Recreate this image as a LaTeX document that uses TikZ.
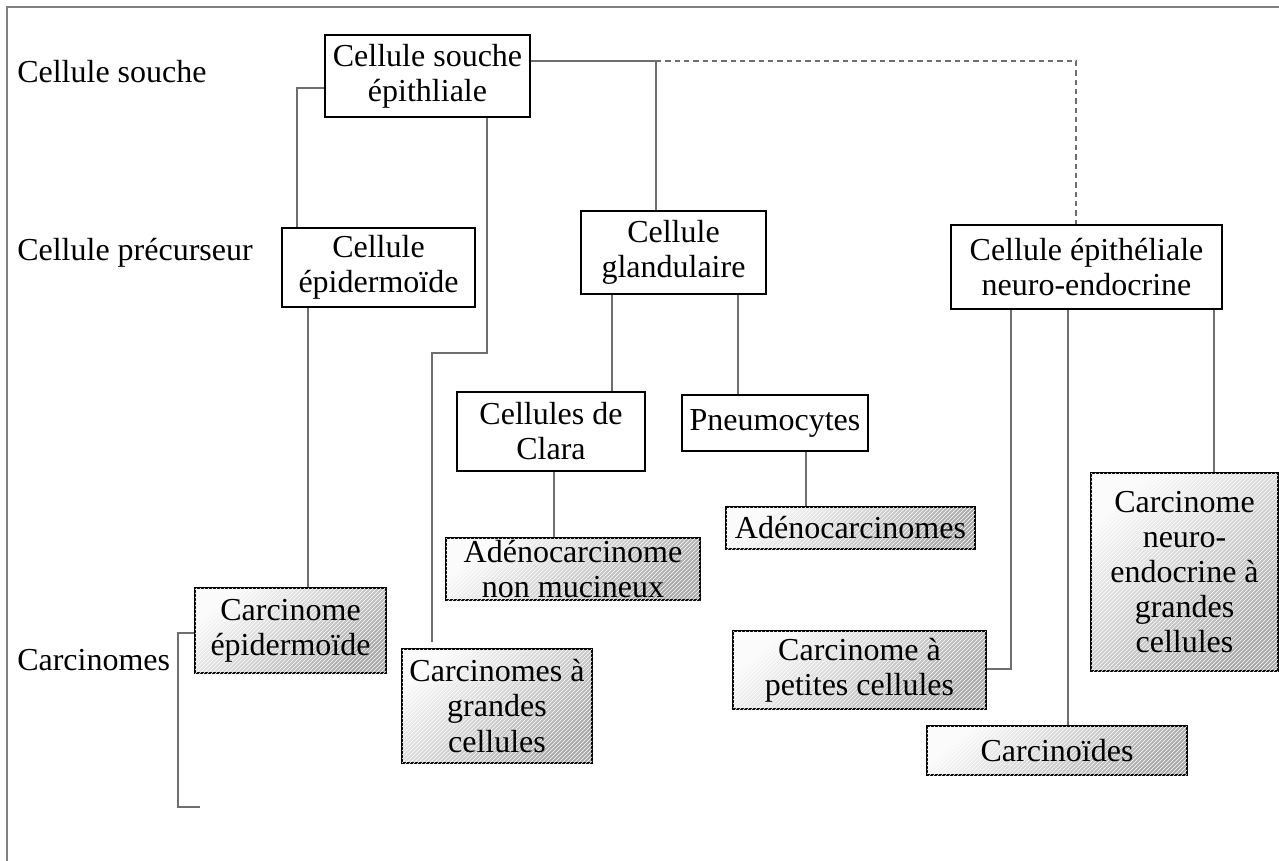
\documentclass[tikz,border=0pt]{standalone}
\usepackage{fontspec}
\setmainfont{Liberation Serif}
\usetikzlibrary{patterns}
\definecolor{linec}{HTML}{6E6E6E}
\newcommand\diafont{\fontsize{24}{26.3}\selectfont}
\newcommand\bx[7]{\node[#6, minimum width={(#4-#2)*0.75pt}, minimum height={(#5-#3)*0.75pt}] (#1) at ({(#2+#4)/2},{(#3+#5)/2}) {#7};}
\begin{document}
\begin{tikzpicture}[x=0.75pt,y=-0.75pt,
  plainbox/.style={draw=black, line width=0.9pt, fill=white, align=center, inner sep=0pt, font=\diafont},
  shadedbox/.style={draw=black, line width=0.9pt, align=center, inner sep=0pt, font=\diafont,
     top color=gray!4, bottom color=gray!68, shading angle=40,
     postaction={pattern=north east lines, pattern color=white, fill opacity=0.35}},
  conn/.style={draw=linec, line width=1pt},
  dconn/.style={draw=linec, line width=0.8pt, dash pattern=on 4pt off 3pt},
  lbl/.style={anchor=west, inner sep=0pt, font=\diafont}]
\useasboundingbox (0,0) rectangle (1279,861);
\fill[white] (0,0) rectangle (1279,861);
\draw[draw=gray, line width=1pt] (1279,7) -- (7,7) -- (7,861);

% labels
\node[lbl] (l1) at (17,72) {Cellule souche};
\node[lbl] (l2) at (17,253) {Cellule précurseur};
\node[lbl] (l3) at (17,660) {Carcinomes};
\draw[conn] (198,633) -- (178,633) -- (178,807) -- (200,807);

% boxes
\bx{src}{325}{35}{530}{117}{plainbox}{Cellule souche\\épithliale}
\bx{epi}{282}{228}{475}{307}{plainbox}{Cellule\\épidermoïde}
\bx{gla}{581}{211}{766}{294}{plainbox}{Cellule\\glandulaire}
\bx{ne}{951}{225}{1222}{309}{plainbox}{Cellule épithéliale\\neuro-endocrine}
\bx{clara}{457}{392}{645}{471}{plainbox}{Cellules de\\Clara}
\bx{pneu}{682}{395}{868}{451}{plainbox}{Pneumocytes}
\bx{adnm}{446}{538}{700}{600}{shadedbox}{Adénocarcinome\\non mucineux}
\bx{adcs}{726}{507}{975}{549}{shadedbox}{Adénocarcinomes}
\bx{cep}{195}{588}{386}{673}{shadedbox}{Carcinome\\épidermoïde}
\bx{cgc}{402}{649}{592}{763}{shadedbox}{Carcinomes à\\grandes\\cellules}
\bx{cpc}{733}{631}{986}{709}{shadedbox}{Carcinome à\\petites cellules}
\bx{cds}{927}{726}{1187}{775}{shadedbox}{Carcinoïdes}
\bx{cne}{1091}{473}{1278}{671}{shadedbox}{Carcinome\\neuro-\\endocrine à\\grandes\\cellules}

% connectors
\draw[conn] (src.west |- 0,88) -| (epi.north -| 297,0);
\draw[conn] (src.south -| 487,0) |- (432,353) -- ([yshift=4.5pt]cgc.north -| 432,0);
\draw[conn] (src.east |- 0,61) -| (gla.north -| 656,0);
\draw[dconn] (656,61) -| (ne.north -| 1076,0);
\draw[conn] (epi.south -| 308,0) -- (cep.north -| 308,0);
\draw[conn] (gla.south -| 612,0) -- (clara.north -| 612,0);
\draw[conn] (gla.south -| 738,0) -- (pneu.north -| 738,0);
\draw[conn] (clara.south -| 554,0) -- (adnm.north -| 554,0);
\draw[conn] (pneu.south -| 806,0) -- (adcs.north -| 806,0);
\draw[conn] (ne.south -| 1011,0) |- (cpc.east |- 0,669);
\draw[conn] (ne.south -| 1068,0) -- (cds.north -| 1068,0);
\draw[conn] (ne.south -| 1214,0) -- (cne.north -| 1214,0);
\end{tikzpicture}
\end{document}
